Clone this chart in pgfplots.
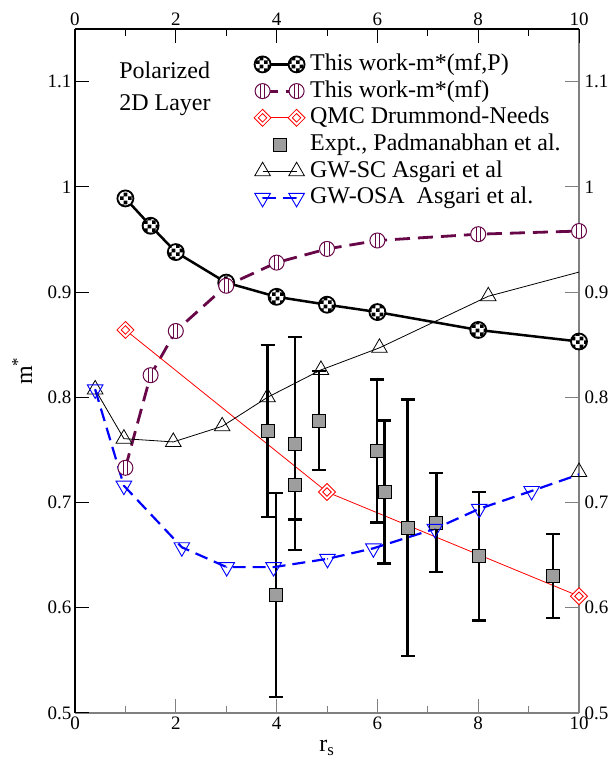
\documentclass[border=0pt]{standalone}
\usepackage{pgfplots}
\pgfplotsset{compat=1.18}
\usepackage{fontspec}
\setmainfont{Liberation Serif}
\usetikzlibrary{patterns}
\definecolor{grmaroon}{RGB}{103,7,72}
\definecolor{grblue}{RGB}{0,0,255}
\definecolor{grred}{RGB}{255,0,0}
\definecolor{axgray}{RGB}{128,128,128}

\pgfdeclarepatternformonly{bigcheck}{\pgfqpoint{0pt}{0pt}}{\pgfqpoint{8pt}{8pt}}{\pgfqpoint{8pt}{8pt}}{%
  \pgfpathrectangle{\pgfqpoint{0pt}{0pt}}{\pgfqpoint{4pt}{4pt}}%
  \pgfpathrectangle{\pgfqpoint{4pt}{4pt}}{\pgfqpoint{4pt}{4pt}}%
  \pgfusepath{fill}}

\pgfdeclareplotmark{checkcirc}{%
  \pgfpathcircle{\pgfpointorigin}{\pgfplotmarksize}%
  \pgfsetfillcolor{white}\pgfusepathqfill
  \pgfpathcircle{\pgfpointorigin}{\pgfplotmarksize}%
  \pgfsetfillpattern{bigcheck}{black}%
  \pgfusepathqfillstroke}
\pgfdeclareplotmark{stripecirc}{%
  \pgfpathcircle{\pgfpointorigin}{\pgfplotmarksize}%
  \pgfsetfillcolor{white}\pgfusepathqfillstroke
  \pgfpathmoveto{\pgfqpoint{-0.28\pgfplotmarksize}{-0.96\pgfplotmarksize}}%
  \pgfpathlineto{\pgfqpoint{-0.28\pgfplotmarksize}{0.96\pgfplotmarksize}}%
  \pgfpathmoveto{\pgfqpoint{0.28\pgfplotmarksize}{-0.96\pgfplotmarksize}}%
  \pgfpathlineto{\pgfqpoint{0.28\pgfplotmarksize}{0.96\pgfplotmarksize}}%
  \pgfusepathqstroke}
\pgfdeclareplotmark{ddiamond}{%
  \pgfpathmoveto{\pgfqpoint{0pt}{\pgfplotmarksize}}%
  \pgfpathlineto{\pgfqpoint{\pgfplotmarksize}{0pt}}%
  \pgfpathlineto{\pgfqpoint{0pt}{-\pgfplotmarksize}}%
  \pgfpathlineto{\pgfqpoint{-\pgfplotmarksize}{0pt}}%
  \pgfpathclose
  \pgfsetfillcolor{white}\pgfusepathqfillstroke
  \pgfpathmoveto{\pgfqpoint{0pt}{0.5\pgfplotmarksize}}%
  \pgfpathlineto{\pgfqpoint{0.5\pgfplotmarksize}{0pt}}%
  \pgfpathlineto{\pgfqpoint{0pt}{-0.5\pgfplotmarksize}}%
  \pgfpathlineto{\pgfqpoint{-0.5\pgfplotmarksize}{0pt}}%
  \pgfpathclose
  \pgfusepathqstroke}
\pgfdeclareplotmark{gsquare}{%
  \pgfpathrectangle{\pgfqpoint{-\pgfplotmarksize}{-\pgfplotmarksize}}{\pgfqpoint{2\pgfplotmarksize}{2\pgfplotmarksize}}%
  \pgfsetfillcolor{black!38}\pgfusepathqfillstroke}
\pgfdeclareplotmark{dtri}{%
  \pgfpathmoveto{\pgfqpoint{0pt}{-\pgfplotmarksize}}%
  \pgfpathlineto{\pgfqpoint{0.866\pgfplotmarksize}{0.5\pgfplotmarksize}}%
  \pgfpathlineto{\pgfqpoint{-0.866\pgfplotmarksize}{0.5\pgfplotmarksize}}%
  \pgfpathclose\pgfusepathqstroke
  \pgfpathcircle{\pgfpointorigin}{0.7pt}\pgfusepathqfill}

\pgfplotsset{/pgf/number format/assume math mode=true,
  onemark legend/.style={legend image code/.code={\draw[##1] plot coordinates {(17pt,0pt)};}}}

\begin{document}
\begin{tikzpicture}
\path[use as bounding box] (-75pt,-47pt) rectangle (538pt,713pt);
% gray bottom / right axes
\begin{axis}[
  at={(0pt,0pt)}, anchor=south west, scale only axis,
  width=504pt, height=684pt,
  xmin=0, xmax=10, ymin=0.5, ymax=1.15,
  axis x line*=bottom, axis y line*=right,
  axis line style={axgray, line width=1.3pt},
  xtick={0,2,4,6,8,10}, minor xtick={1,3,5,7,9},
  ytick={0.5,0.6,0.7,0.8,0.9,1,1.1},
  tick align=inside,
  major tick length=14pt, minor tick length=7pt,
  tick style={axgray, line width=1pt},
  tick label style={font=\fontsize{19}{22}\selectfont, black},
  yticklabel style={xshift=2pt},
  xlabel={r\textsubscript{s}},
  xlabel style={at={(axis description cs:0.5,-0.051)}, anchor=center, font=\fontsize{24}{28}\selectfont},
]
\addplot[draw=none, forget plot] coordinates {(0,0.5)};
\end{axis}
% black top / left axes with data
\begin{axis}[
  at={(0pt,0pt)}, anchor=south west, scale only axis,
  width=504pt, height=684pt,
  xmin=0, xmax=10, ymin=0.5, ymax=1.15,
  axis x line*=top, axis y line*=left,
  axis line style={black, line width=1.3pt},
  xtick={0,2,4,6,8,10}, minor xtick={1,3,5,7,9},
  ytick={0.5,0.6,0.7,0.8,0.9,1,1.1},
  tick align=inside,
  major tick length=14pt, minor tick length=7pt,
  tick style={black, line width=1pt},
  tick label style={font=\fontsize{19}{22}\selectfont, black},
  ylabel={m\textsuperscript{*}},
  ylabel style={at={(axis description cs:-0.105,0.5)}, anchor=center, font=\fontsize{24}{28}\selectfont},
  legend style={draw=none, fill=none, at={(0.349,0.969)}, anchor=north west,
     font=\fontsize{24}{26}\selectfont, row sep=2.7pt, column sep=5pt,
     nodes={inner sep=0pt, text height=18pt, text depth=6pt}},
  legend cell align=left,
  legend image code/.code={\draw[#1] plot coordinates {(0pt,0pt) (34pt,0pt)};},
]
\addplot[black, line width=2.5pt, mark=checkcirc, mark size=8pt, mark options={solid, line width=1.8pt}]
 coordinates {(1,0.989) (1.5,0.963) (2,0.938) (3,0.909) (4,0.8955) (5,0.888) (6,0.881) (8,0.864) (10,0.853)};
\addlegendentry{This work-m*(mf,P)}

\addplot[grmaroon, line width=2.8pt, dash pattern=on 15pt off 8pt, mark=stripecirc, mark size=7.5pt, mark options={solid, line width=1pt}]
 coordinates {(1,0.733) (1.5,0.821) (2,0.863) (3,0.906) (4,0.928) (5,0.941) (6,0.949) (8,0.955) (10,0.958)};
\addlegendentry{This work-m*(mf)}

\addplot[grred, line width=0.8pt, mark=ddiamond, mark size=8.5pt, mark options={solid, line width=0.8pt}]
 coordinates {(1,0.864) (5,0.710) (10,0.611)};
\addlegendentry{QMC Drummond-Needs}

\addplot[black, only marks, mark=gsquare, mark size=6.5pt, mark options={black, line width=0.8pt},
  onemark legend,
  error bars/.cd, y dir=both, y explicit,
  error bar style={line width=2.3pt, black},
  error mark options={rotate=90, mark size=7pt, line width=2.3pt, black}]
 coordinates {
  (3.82,0.768) +- (0,0.082)
  (3.99,0.612) +- (0,0.097)
  (4.37,0.717) +- (0,0.033)
  (4.37,0.756) +- (0,0.101)
  (4.84,0.778) +- (0,0.047)
  (5.99,0.749) +- (0,0.068)
  (6.14,0.710) +- (0,0.068)
  (6.60,0.676) +- (0,0.122)
  (7.17,0.681) +- (0,0.047)
  (8.02,0.649) +- (0,0.061)
  (9.49,0.630) +- (0,0.040)
 };
\addlegendentry{Expt., Padmanabhan et al.}

\addplot[black, line width=0.8pt, mark=triangle, mark size=9pt, mark options={solid, line width=0.8pt}]
 coordinates {(0.4,0.8075) (0.97,0.7607) (1.95,0.7576) (2.92,0.7724) (3.82,0.800) (4.88,0.826) (6.04,0.847) (8.2,0.896)};
\addlegendentry{GW-SC Asgari et al}

\addplot[black, line width=0.8pt, forget plot] coordinates {(8.2,0.896) (10,0.919)};
\addplot[black, only marks, mark=triangle, mark size=9pt, mark options={line width=0.8pt}, forget plot] coordinates {(10,0.729)};

\addplot[grblue, line width=2.2pt, dash pattern=on 13pt off 7pt, mark=dtri, mark size=9pt, mark options={solid, line width=0.9pt, fill=grblue}]
 coordinates {(0.4,0.8075) (0.97,0.716) (2.12,0.6575) (3.01,0.6386) (3.94,0.6386) (5.01,0.6465) (5.92,0.6565) (7.14,0.675) (8.02,0.694) (9.06,0.711) (10.02,0.727)};
\addlegendentry{GW-OSA\ \ Asgari et al.}

\node[anchor=west, align=left, font=\fontsize{24}{32}\selectfont] at (rel axis cs:0.081,0.912) {Polarized\\2D Layer};
\end{axis}
\end{tikzpicture}
\end{document}
